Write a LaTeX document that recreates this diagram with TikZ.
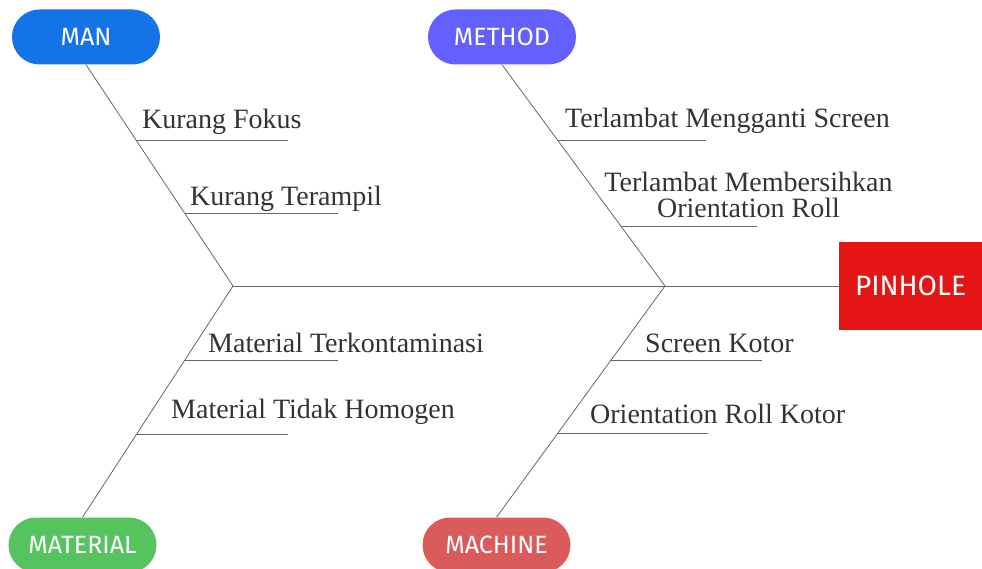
\documentclass[tikz,border=0pt]{standalone}
\usepackage{fontspec}
\setmainfont{Liberation Serif}
\newfontfamily\labelfont{Fira Sans}
\definecolor{manblue}{HTML}{1473E6}
\definecolor{methodblue}{HTML}{6360FF}
\definecolor{matgreen}{HTML}{55C45E}
\definecolor{machred}{HTML}{DB5A5A}
\definecolor{pinred}{HTML}{E51515}
\definecolor{linegray}{HTML}{666666}
\definecolor{textgray}{HTML}{333333}
\begin{document}
\begin{tikzpicture}[x=1pt,y=-1pt,
  bone/.style={draw=linegray, line width=0.8pt},
  pill/.style={rectangle, rounded corners=27.5pt, minimum width=148pt, minimum height=55pt,
    inner sep=0pt, text=white, font=\labelfont\fontsize{25}{25}\selectfont},
  cause/.style={anchor=base west, inner sep=0pt, text=textgray, font=\fontsize{28}{26}\selectfont},
]
\useasboundingbox (0,0) rectangle (982,569);

% heads
\node[pill, fill=manblue] (man) at (86,37) {MAN};
\node[pill, fill=methodblue] (method) at (502,37) {METHOD};
\node[pill, fill=matgreen] (material) at (82.5,545) {MATERIAL};
\node[pill, fill=machred] (machine) at (496.5,545) {MACHINE};
\node[rectangle, fill=pinred, minimum width=143pt, minimum height=88pt, inner sep=0pt,
  text=white, font=\labelfont\fontsize{28}{28}\selectfont] (pinhole) at (910.5,286) {PINHOLE};

% junctions
\coordinate (j1) at (233,286);
\coordinate (j2) at (665,286);

% spine and bones
\draw[bone] (j1) -- (pinhole.west);
\draw[bone] (man.south) -- (j1);
\draw[bone] (method.south) -- (j2);
\draw[bone] (j1) -- (material.north);
\draw[bone] (j2) -- (machine.north);

% points on bones
\coordinate (a1) at (136.1,140);
\coordinate (a2) at (184.6,213);
\coordinate (b1) at (557.6,140);
\coordinate (b2) at (620.8,226);
\coordinate (c1) at (184.9,360);
\coordinate (c2) at (136.8,434);
\coordinate (d1) at (611.1,360);
\coordinate (d2) at (558,433);
% ends of branch lines
\coordinate (a1e) at (288,140);
\coordinate (a2e) at (338,213);
\coordinate (b1e) at (706,140);
\coordinate (b2e) at (757,226);
\coordinate (c1e) at (338,360);
\coordinate (c2e) at (288,434);
\coordinate (d1e) at (762,360);
\coordinate (d2e) at (708,433);

\draw[bone] (a1) -- (a1e);
\draw[bone] (a2) -- (a2e);
\draw[bone] (b1) -- (b1e);
\draw[bone] (b2) -- (b2e);
\draw[bone] (c1) -- (c1e);
\draw[bone] (c2) -- (c2e);
\draw[bone] (d1) -- (d1e);
\draw[bone] (d2) -- (d2e);

% cause texts
\node[cause] (ta1) at (142,129) {Kurang Fokus};
\node[cause] (ta2) at (190,206) {Kurang Terampil};
\node[cause] (tb1) at (565,128) {Terlambat Mengganti Screen};
\node[cause, anchor=base, align=center] (tb2) at (748.5,218) {Terlambat Membersihkan\\Orientation Roll};
\node[cause] (tc1) at (208,352) {Material Terkontaminasi};
\node[cause] (tc2) at (171,418) {Material Tidak Homogen};
\node[cause] (td1) at (645,352) {Screen Kotor};
\node[cause] (td2) at (590,423) {Orientation Roll Kotor};
\end{tikzpicture}
\end{document}
